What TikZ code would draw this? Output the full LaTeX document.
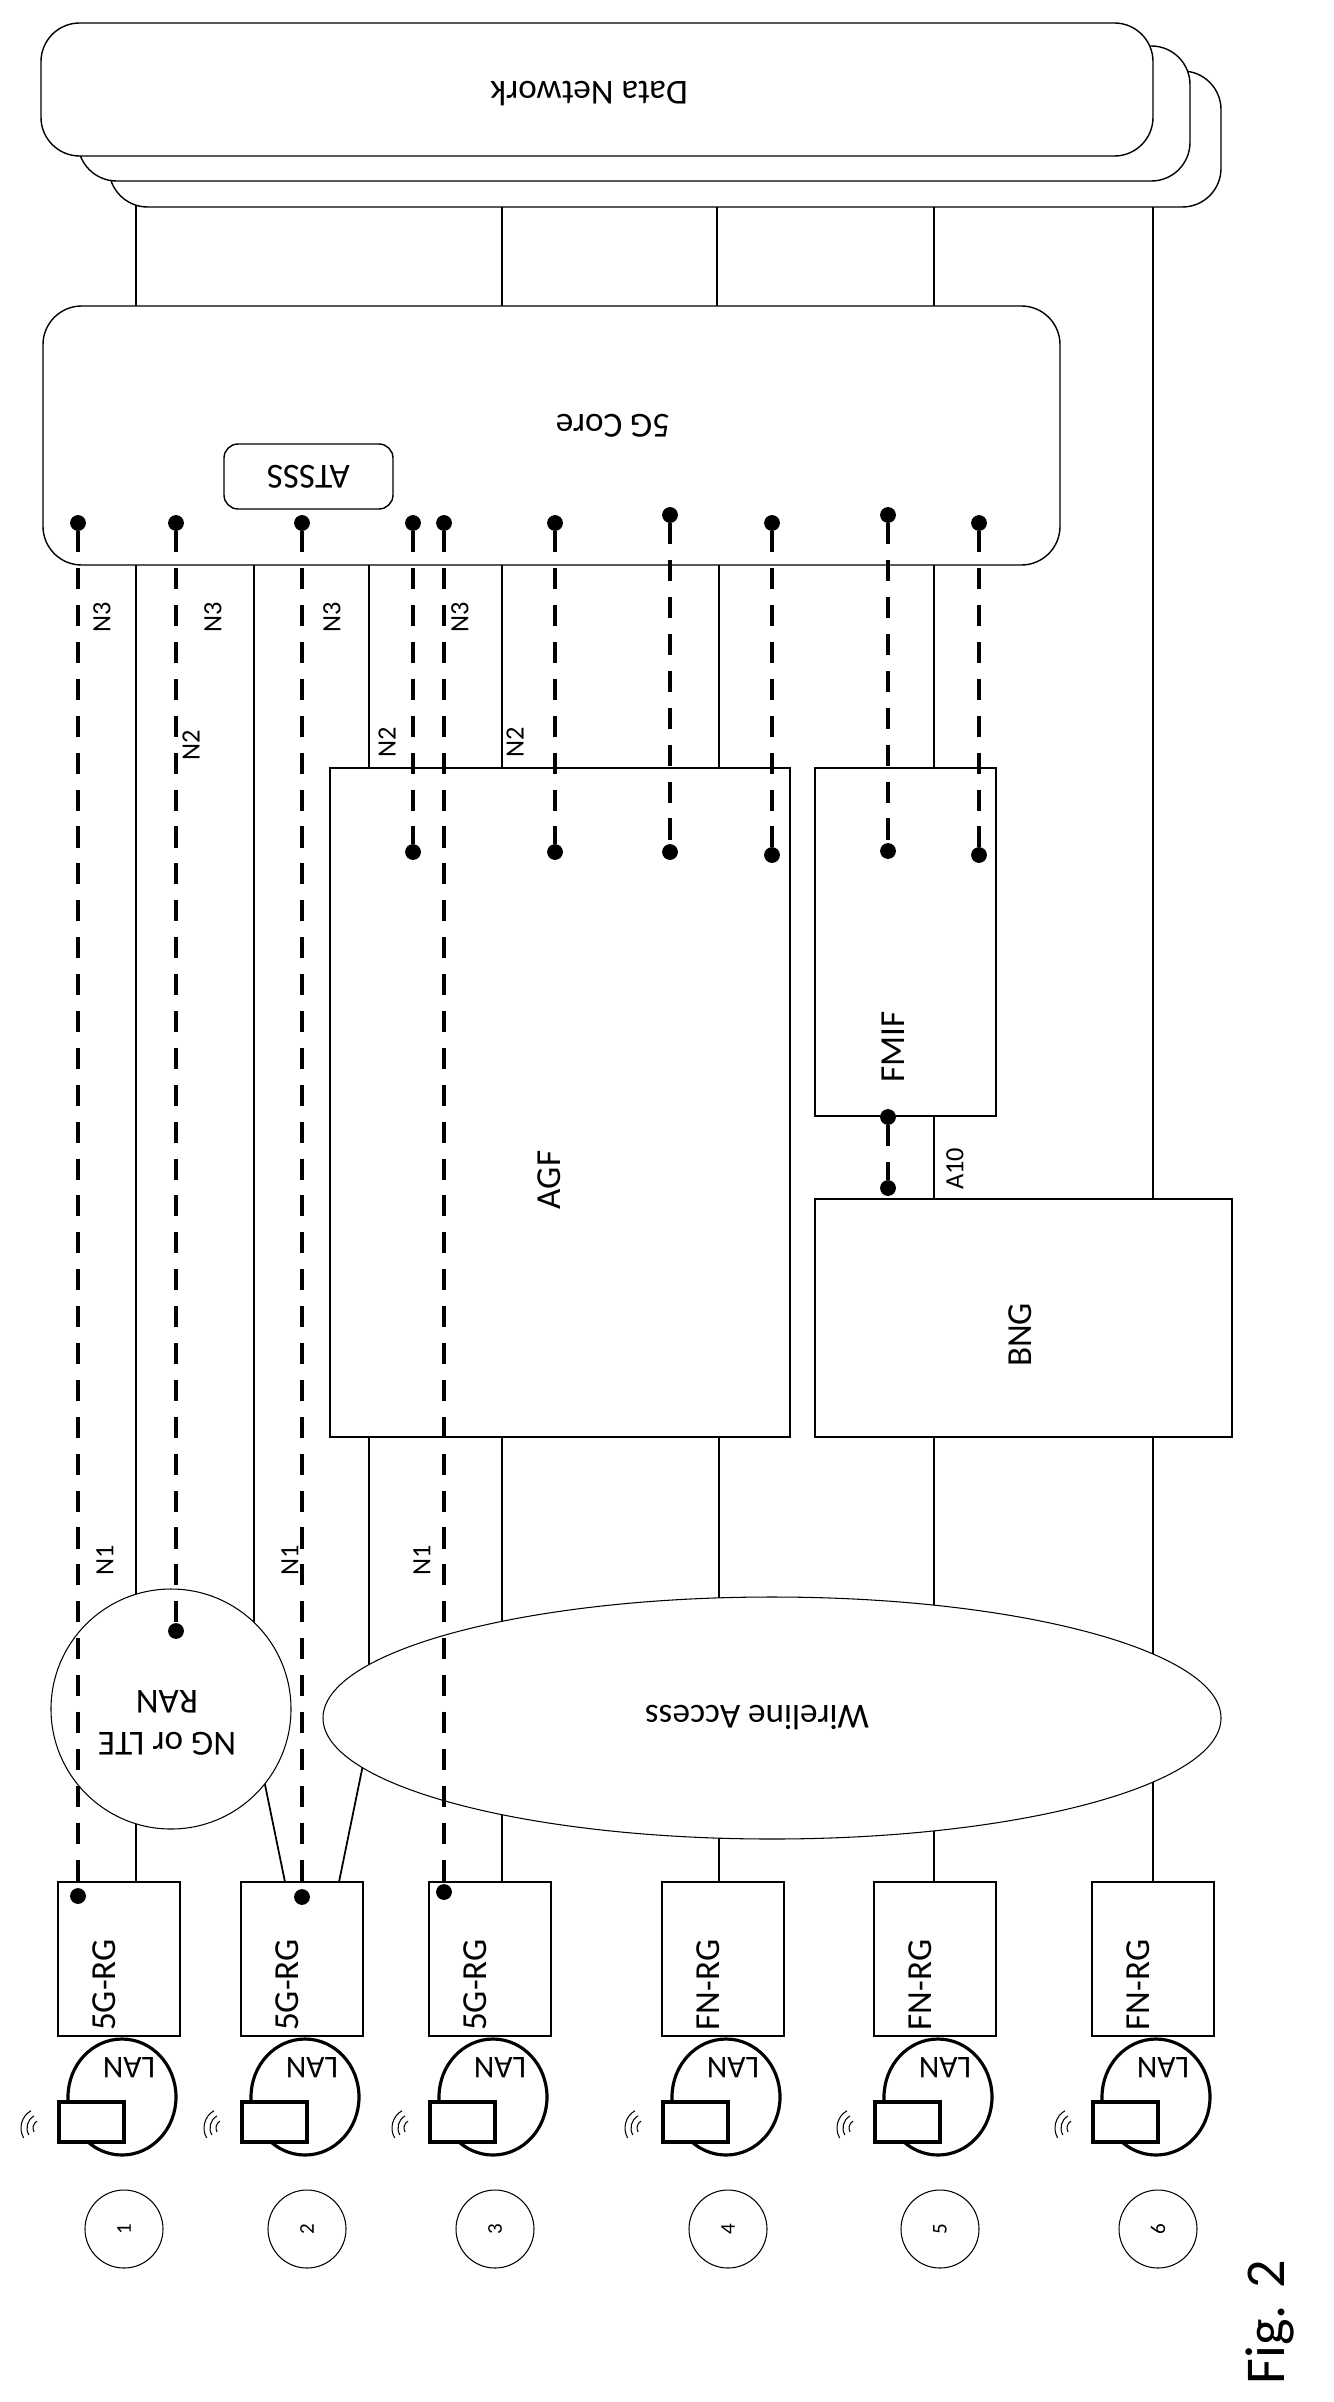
\documentclass[tikz,border=0pt]{standalone}
\usepackage{fontspec}
\setmainfont{Carlito}
\usetikzlibrary{shapes.geometric, positioning, calc}

\begin{document}
\begin{tikzpicture}[x=0.02cm, y=-0.02cm,
    box/.style={draw, line width=0.8pt, inner sep=0pt},
    rbox/.style={draw, line width=0.8pt, rounded corners=22pt, fill=white},
    lbl/.style={font=\fontsize{20}{24}\selectfont, rotate=90},
    ifl/.style={font=\fontsize{15}{18}\selectfont, rotate=90},
    ulbl/.style={font=\fontsize{20}{24}\selectfont, rotate=180, align=center},
    link/.style={line width=1pt},
    tun/.style={line width=2.4pt, dash pattern=on 12pt off 9pt},
    dot/.style={circle, fill, inner sep=0pt, minimum size=9pt}
]
\useasboundingbox (0,0) rectangle (1334,2402);

% solid links
\foreach \x in {136,502,717,934}
    \draw[link] (\x,156) -- (\x,306);
\draw[link] (1153,156) -- (1153,1882);
\draw[link] (136,565) -- (136,1882);
\draw[link] (254,565) -- (254,1640);
\draw[link] (369,565) -- (369,1680);
\draw[link] (502,565) -- (502,1882);
\draw[link] (719,565) -- (719,1882);
\draw[link] (934,565) -- (934,1882);
\draw[link] (285,1882) -- (262,1770);
\draw[link] (339,1882) -- (366,1750);

% Data network stack
\draw[rbox] (109,71) rectangle (1221,207);
\draw[rbox] (78,46) rectangle (1190,181);
\node[rbox, minimum width=1112*0.02cm, minimum height=133*0.02cm] (dn) at (597,89.5) {};
\node[ulbl] at (589,94) {Data Network};

% 5G core
\node[rbox, minimum width=1017*0.02cm, minimum height=259*0.02cm] (core) at (551.5,435.5) {};
\node[ulbl] at (613,426) {5G Core};
\node[draw, line width=0.8pt, rounded corners=8pt, minimum width=169*0.02cm, minimum height=65*0.02cm] (atsss) at (308.5,476.5) {};
\node[ulbl] at (308.5,476.5) {ATSSS};

% access boxes
\node[box, fill=white, minimum width=460*0.02cm, minimum height=669*0.02cm] (agf) at (560,1102.5) {};
\node[lbl] at (549,1180) {AGF};
\node[box, fill=white, minimum width=181*0.02cm, minimum height=348*0.02cm] (fmif) at (905.5,942) {};
\node[lbl] at (893,1047) {FMIF};
\node[box, fill=white, minimum width=417*0.02cm, minimum height=238*0.02cm] (bng) at (1023.5,1318) {};
\node[lbl] at (1020,1335) {BNG};
\draw[link] (fmif.south -| 934,0) -- (bng.north -| 934,0);
\draw[link] (719,1437) -- (719,1882);
\draw[link] (934,1437) -- (934,1882);

% RAN and wireline access
\node[draw, line width=0.6pt, circle, fill=white, minimum size=240*0.02cm] (ran) at (171,1709) {};
\node[ulbl] at (167,1723) {NG or LTE\\RAN};
\node[draw, line width=0.6pt, ellipse, fill=white, minimum width=898*0.02cm, minimum height=242*0.02cm] (wa) at (772,1718) {};
\node[ulbl] at (757,1718) {Wireline Access};

% residential gateways
\foreach \c/\n/\t in {119/1/5G-RG, 302/2/5G-RG, 490/3/5G-RG, 723/4/FN-RG, 935/5/FN-RG, 1153/6/FN-RG} {
    \node[box, fill=white, minimum width=122*0.02cm, minimum height=154*0.02cm] (rg\n) at (\c,1959) {};
    \node[lbl] at (\c-15,1985) {\t};
    \draw[line width=1.8pt] (\c+3,2097) ellipse (54*0.02cm and 58*0.02cm);
    \node[font=\fontsize{18}{20}\selectfont, rotate=180] at (\c+10,2068) {LAN};
    \draw[line width=1.8pt, fill=white] (\c-60,2102) rectangle (\c+5,2142);
    \foreach \r in {8,14,20}
        \draw[line width=0.6pt] (\c-78,2128) ++(120:\r*0.02cm) arc (120:210:\r*0.02cm);
    \node[draw, line width=0.6pt, circle, minimum size=78*0.02cm, font=\fontsize{12}{14}\selectfont] (num\n) at (\c+5,2229) {\rotatebox{90}{\n}};
}

% tunnels
\foreach \x/\y/\z in {78/523/1896, 176/523/1631, 302/523/1897, 444/523/1892,
                      413/523/852, 555/523/852, 670/515/852, 772/523/855,
                      888/515/851, 979/523/855} {
    \node[dot] (t\x a) at (\x,\y) {};
    \node[dot] (t\x b) at (\x,\z) {};
    \draw[tun] (t\x a) -- (t\x b);
}
\node[dot] (a10a) at (888,1117) {};
\node[dot] (a10b) at (888,1188) {};
\draw[tun] (a10a) -- (a10b);

% interface labels
\foreach \x in {102,213,332,460}
    \node[ifl] at (\x,617) {N3};
\node[ifl] at (191,745) {N2};
\node[ifl] at (387,742) {N2};
\node[ifl] at (515,742) {N2};
\foreach \x in {105,290,422}
    \node[ifl] at (\x,1560) {N1};
\node[ifl] at (955,1169) {A10};

\node[font=\fontsize{32}{38}\selectfont, rotate=90] (fig) at (1270,2322) {Fig. 2};
\end{tikzpicture}
\end{document}
